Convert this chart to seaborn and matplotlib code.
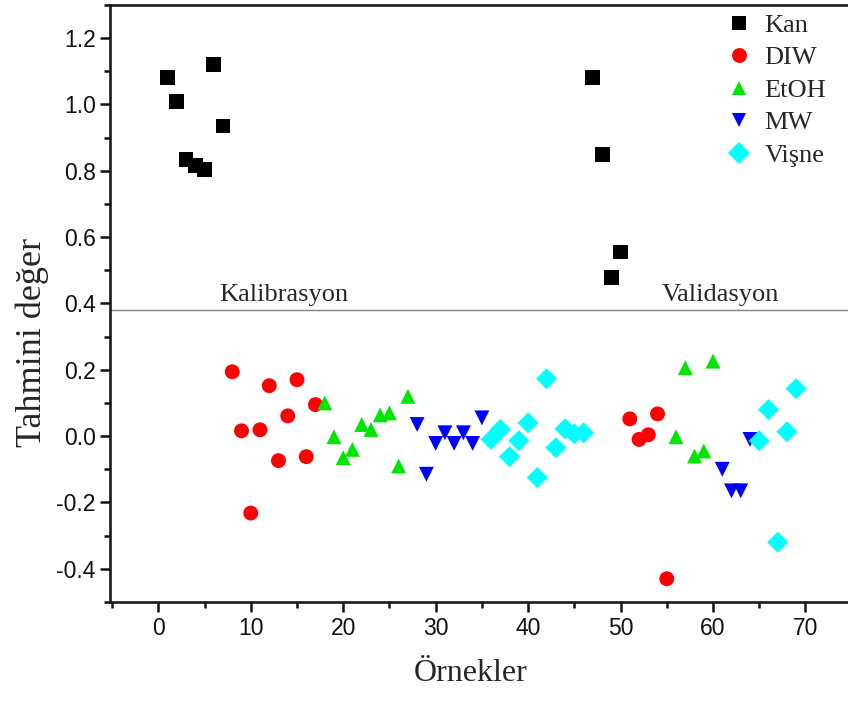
import numpy as np
import pandas as pd
import matplotlib
matplotlib.use("Agg")
import matplotlib.pyplot as plt
from matplotlib.ticker import MultipleLocator
import seaborn as sns

# sample numbers and predicted values per group
kan_x = [1, 2, 3, 4, 5, 6, 7, 47, 48, 49, 50]
kan_y = [1.08, 1.01, 0.835, 0.817, 0.805, 1.12, 0.935, 1.08, 0.85, 0.477, 0.555]

diw_x = [8, 9, 10, 11, 12, 13, 14, 15, 16, 17, 51, 52, 53, 54, 55]
diw_y = [0.194, 0.016, -0.232, 0.019, 0.152, -0.074, 0.061, 0.17, -0.062, 0.095,
         0.052, -0.01, 0.004, 0.067, -0.43]

etoh_x = [18, 19, 20, 21, 22, 23, 24, 25, 26, 27, 56, 57, 58, 59, 60]
etoh_y = [0.10, -0.002, -0.065, -0.04, 0.035, 0.02, 0.064, 0.07, -0.09, 0.12,
          -0.002, 0.206, -0.06, -0.045, 0.226]

mw_x = [28, 29, 30, 31, 32, 33, 34, 35, 61, 62, 63, 64]
mw_y = [0.035, -0.115, -0.022, 0.01, -0.022, 0.01, -0.022, 0.055,
        -0.10, -0.165, -0.165, -0.01]

visne_x = [36, 37, 38, 39, 40, 41, 42, 43, 44, 45, 46, 65, 66, 67, 68, 69]
visne_y = [-0.01, 0.02, -0.062, -0.014, 0.04, -0.125, 0.173, -0.035, 0.022, 0.007, 0.01,
           -0.014, 0.08, -0.32, 0.013, 0.143]

groups = ["Kan", "DIW", "EtOH", "MW", "Vişne"]
split_y = 0.38

frames = []
for name, xs, ys in zip(groups, [kan_x, diw_x, etoh_x, mw_x, visne_x],
                        [kan_y, diw_y, etoh_y, mw_y, visne_y]):
    frames.append(pd.DataFrame({"Örnekler": xs, "Tahmini değer": ys, "grup": name}))
df = pd.concat(frames, ignore_index=True)

sns.set_style("ticks")
plt.rcParams["font.family"] = ["Liberation Sans", "DejaVu Sans"]

fig = plt.figure(figsize=(8.48, 7.02), dpi=100)
ax = fig.add_axes([0.13, 0.1425, 0.87, 0.8505])

palette = {"Kan": "#000000", "DIW": "#ff0000", "EtOH": "#00e600",
           "MW": "#0000ff", "Vişne": "#00ffff"}
markers = {"Kan": "s", "DIW": "o", "EtOH": "^", "MW": "v", "Vişne": "D"}
sns.scatterplot(data=df, x="Örnekler", y="Tahmini değer", hue="grup", style="grup",
                palette=palette, markers=markers, hue_order=groups, style_order=groups,
                s=115, linewidth=0, ax=ax, legend=True)

ax.axhline(split_y, color="#808080", lw=1)
serif = ["Liberation Serif", "DejaVu Serif"]
ax.text(13.6, split_y + 0.012, "Kalibrasyon", ha="center", va="bottom",
        fontsize=19, family=serif)
ax.text(60.8, split_y + 0.012, "Validasyon", ha="center", va="bottom",
        fontsize=19, family=serif)

ax.set_xlim(-5.2, 74.6)
ax.set_ylim(-0.5, 1.3)
ax.xaxis.set_major_locator(MultipleLocator(10))
ax.xaxis.set_minor_locator(MultipleLocator(5))
ax.yaxis.set_major_locator(MultipleLocator(0.2))
ax.yaxis.set_minor_locator(MultipleLocator(0.1))
ax.yaxis.set_major_formatter(matplotlib.ticker.FormatStrFormatter("%.1f"))
ax.tick_params(which="major", length=7, width=1.8, labelsize=16.5, color="#111111",
               labelcolor="#111111")
ax.tick_params(which="minor", length=4, width=1.8, color="#111111")
for side in ["left", "bottom", "top"]:
    ax.spines[side].set_linewidth(1.9)
    ax.spines[side].set_color("#1a1a1a")
ax.spines["right"].set_visible(False)

ax.set_xlabel("Örnekler", fontsize=23, family=serif)
ax.set_ylabel("Tahmini değer", fontsize=26, family=serif)
ax.xaxis.set_label_coords(0.488, -0.095)
ax.yaxis.set_label_coords(-0.083, 0.435)

leg = ax.legend(loc="upper right", frameon=False,
                prop={"family": serif, "size": 19}, handletextpad=0.25,
                handlelength=1.4, borderaxespad=0.2, labelspacing=0.34,
                bbox_to_anchor=(0.992, 1.012))

fig.savefig("out.png", dpi=100)
